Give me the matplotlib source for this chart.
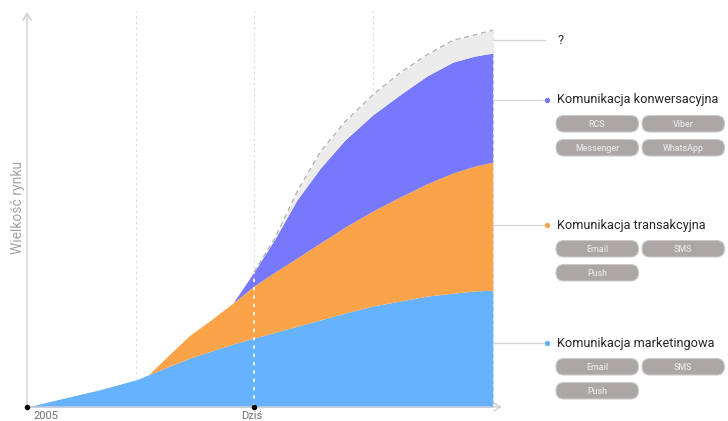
import numpy as np
import matplotlib
matplotlib.use('Agg')
from matplotlib import pyplot as plt
from matplotlib.patches import FancyBboxPatch

plt.rcParams['font.family'] = ['Roboto', 'DejaVu Sans']

# time axis (0 = 2005, 48.7 = today, 100 = end of forecast)
x = [0, 7.1, 15.7, 23.4, 26.0, 30.7, 35.0, 39.7, 44.2, 48.7, 53.2, 57.9, 62.9, 68.2,
     74.2, 80.0, 85.8, 91.4, 96.1, 100]
dzis_idx = 9

# layer thickness (market size units)
marketing = [0, 2.1, 4.6, 7.2, 8.5, 10.9, 13.0, 14.9, 16.7, 18.3, 19.8, 21.4, 23.1, 24.9,
             26.8, 28.1, 29.4, 30.2, 30.8, 31.0]
transakcyjna = [0, 0, 0, 0, 0, 3.2, 6.1, 8.4, 10.9, 13.8, 16.0, 18.1, 20.4, 22.8,
                25.2, 27.6, 29.8, 31.9, 33.1, 34.0]
konwersacyjna = [0, 0, 0, 0, 0, 0, 0, 0, 0, 3.7, 8.8, 15.4, 19.8, 23.1,
                 25.5, 27.1, 28.6, 29.4, 29.2, 28.9]
nieznane = [0, 0, 0, 0, 0, 0, 0, 0, 0, 0, 0.2, 2.1, 4.3, 4.8,
            5.3, 5.8, 5.6, 5.8, 5.6, 6.1]

vlines_idx = [3, 9, 14]

labels = ['Komunikacja marketingowa', 'Komunikacja transakcyjna',
          'Komunikacja konwersacyjna', '?']
channels = [['Email', 'SMS', 'Push'], ['Email', 'SMS', 'Push'],
            ['RCS', 'Viber', 'Messenger', 'WhatsApp'], []]
colors = ['#66b2fe', '#fba349', '#7878fc', '#ececec']
label_py = [343, 225, 100, 40]   # label rows in pixels

fig = plt.figure(figsize=(7.28, 4.21), dpi=100)
W, H = 728, 421

ax = fig.add_axes([27 / W, 14 / H, 477.7 / W, 397.7 / H])
ax.set_xlim(0, 102.5)
ax.set_ylim(0, 105.5)
for s in ax.spines.values():
    s.set_visible(False)
ax.set_xticks([])
ax.set_yticks([])

xs = np.array(x, dtype=float)
layers = [np.array(v, dtype=float) for v in (marketing, transakcyjna, konwersacyjna, nieznane)]
bottom = np.zeros_like(xs)
for lay, c in zip(layers, colors):
    top = bottom + lay
    ax.fill_between(xs, bottom, top, color=c, lw=0, zorder=2)
    bottom = top
total = bottom

# outline of the uncertain part
ax.plot(xs[dzis_idx:], total[dzis_idx:], ls=(0, (4, 3)), color='#b0b0b0', lw=0.9, zorder=3)
ax.plot([xs[-1], xs[-1]], [0, total[-1]], ls=(0, (3, 3)), color='#e6e6e6', lw=0.8, zorder=3)

# vertical guides
for i in vlines_idx:
    ax.plot([xs[i], xs[i]], [0, 105], ls=(0, (2, 3)), color='#d9d9d9', lw=0.8, zorder=1)
ax.plot([xs[dzis_idx], xs[dzis_idx]], [0, total[dzis_idx]], ls=(0, (2, 3)),
        color='white', lw=1.2, zorder=4)

# axes with arrows
ax.annotate('', xy=(0, 105.5), xytext=(0, 0), annotation_clip=False,
            arrowprops=dict(arrowstyle='->,head_length=0.5,head_width=0.3', color='#cfcfcf', lw=1))
ax.annotate('', xy=(102.5, 0), xytext=(0, 0), annotation_clip=False,
            arrowprops=dict(arrowstyle='->,head_length=0.5,head_width=0.3', color='#cfcfcf', lw=1))
ax.plot([xs[0], xs[dzis_idx]], [0, 0], 'o', color='black', ms=3, clip_on=False, zorder=6)

# overlay in pixel coordinates for text & legend panel
pan = fig.add_axes([0, 0, 1, 1], facecolor='none')
pan.set_xlim(0, W)
pan.set_ylim(H, 0)
pan.axis('off')

pan.text(18, 207, 'Wielkość rynku', rotation=90, ha='center', va='center',
         fontsize=10, color='#a3a3a3')
pan.text(46, 416, '2005', ha='center', va='center', fontsize=8, color='#6e6e6e')
pan.text(252, 416, 'Dziś', ha='center', va='center', fontsize=8, color='#6e6e6e')

for lab, ch, c, py in zip(labels, channels, colors, label_py):
    pan.plot([493, 545], [py, py], color='#d4d4d4', lw=0.9)
    if lab != '?':
        pan.plot([547], [py], 'o', color=c, ms=2.8)
    pan.text(557, py, lab, ha='left', va='center', fontsize=9.2, color='#262626')
    for k, name in enumerate(ch):
        cx = 556 + (k % 2) * 86
        cy = py + 15.5 + (k // 2) * 24
        pan.add_patch(FancyBboxPatch((cx, cy), 82.5, 16.5,
                                     boxstyle='round,pad=0,rounding_size=8',
                                     fc='#aba7a7', ec='#cdcaca', lw=0.8))
        pan.text(cx + 41, cy + 8.7, name, ha='center', va='center', fontsize=6.4,
                 fontweight='medium', color='#e4e4e4')

fig.savefig('out.png', dpi=100)
